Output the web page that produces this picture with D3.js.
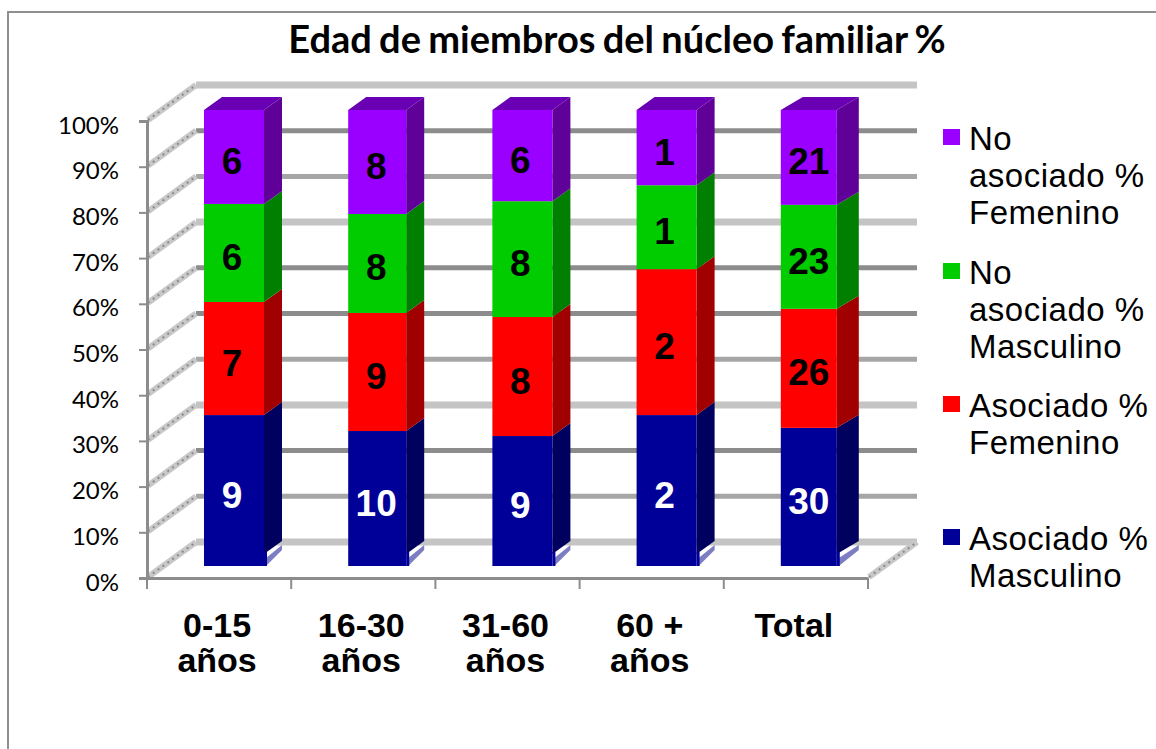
<!DOCTYPE html>
<html>
<head>
<meta charset="utf-8">
<script src="https://cdn.jsdelivr.net/npm/d3@7"></script>
<style>
  html, body { margin: 0; padding: 0; background: #fff; }
  svg { display: block; }
</style>
</head>
<body>
<div id="chart"></div>
<script>
// Datos
const categories = ['0-15 años', '16-30 años', '31-60 años', '60 + años', 'Total'];
const categoryLines = [['0-15', 'años'], ['16-30', 'años'], ['31-60', 'años'], ['60 +', 'años'], ['Total']];
const seriesKeys = ['asocMasc', 'asocFem', 'noAsocMasc', 'noAsocFem'];

// porcentaje estimado de cada tramo (altura en la barra)
const asocMasc = [33.1, 29.6, 28.5, 33.1, 30.3];
const asocFem = [24.8, 25.9, 26.1, 32.0, 26.1];
const noAsocMasc = [21.5, 21.7, 25.4, 18.4, 22.8];
const noAsocFem = [20.6, 22.8, 20.0, 16.5, 20.8];

// etiquetas que muestra cada tramo
const labelsAsocMasc = [9, 10, 9, 2, 30];
const labelsAsocFem = [7, 9, 8, 2, 26];
const labelsNoAsocMasc = [6, 8, 8, 1, 23];
const labelsNoAsocFem = [6, 8, 6, 1, 21];

const yTicks = [0, 10, 20, 30, 40, 50, 60, 70, 80, 90, 100];
const legendLines = {
  noAsocFem: ['No', 'asociado %', 'Femenino'],
  noAsocMasc: ['No', 'asociado %', 'Masculino'],
  asocFem: ['Asociado %', 'Femenino'],
  asocMasc: ['Asociado %', 'Masculino']
};

//Colores fijos
const COLOR_FRONT = { asocMasc: '#000099', asocFem: '#ff0000', noAsocMasc: '#00cc00', noAsocFem: '#9900ff' };
const COLOR_SIDE = { asocMasc: '#00005f', asocFem: '#a00000', noAsocMasc: '#007f00', noAsocFem: '#5f0099' };
const COLOR_TOP = '#6a00b4';
const COLOR_AXIS = '#8c8c8c';
// el moire de las lineas de rejilla en la imagen original, de 0% a 100%
const gridShade = ['#c4c4c4', '#a6a6a6', '#8c8c8c', '#c4c4c4', '#a6a6a6', '#8c8c8c', '#8c8c8c', '#c4c4c4', '#a6a6a6', '#8c8c8c', '#c4c4c4'];

const width = 1156, height = 749;
const wallDx = 49, wallDy = -36;
const barInset = 57, barDy = -13;
const frontW = [60, 58, 60, 60, 56];
const sideW = [18, 18, 18, 18, 22];

const svg = d3.select('#chart').append('svg')
  .attr('width', width)
  .attr('height', height);

// Marco
svg.append('path')
  .attr('d', 'M8,' + height + 'V12H' + width)
  .attr('fill', 'none')
  .attr('stroke', '#8f8f8f')
  .attr('stroke-width', 2);

// Titulo
svg.append('text')
  .attr('x', 617)
  .attr('y', 53)
  .attr('text-anchor', 'middle')
  .style('font', '700 38px Lato')
  .style('word-spacing', '-2px')
  .attr('fill', '#000')
  .text('Edad de miembros del núcleo familiar %');

// Escalas
const x = d3.scaleBand().domain(categories).range([147, 868]);
const y = d3.scaleLinear().domain([0, 100]).range([578, 121]);
const yBar = d3.scaleLinear().domain([0, 100]).range([566, 110]);

// Rejilla del fondo
svg.append('g').selectAll('line')
  .data(yTicks)
  .enter()
  .append('line')
  .attr('x1', 147 + wallDx)
  .attr('x2', 868 + wallDx)
  .attr('y1', function(d) { return y(d) + wallDy; })
  .attr('y2', function(d) { return y(d) + wallDy; })
  .attr('stroke', function(d, i) { return gridShade[i]; })
  .attr('stroke-width', function(d, i) { return gridShade[i] == '#c4c4c4' ? 7 : 5; });

// Pared lateral y suelo (lineas rayadas)
let wallData = yTicks.map(function(d) { return { x: 147, y: y(d) }; });
wallData.push({ x: 868, y: y(0) });
svg.append('g').selectAll('g')
  .data(wallData)
  .enter()
  .append('g')
  .each(function(d) {
    let g = d3.select(this);
    g.append('line').attr('stroke', '#c8c8c8').attr('stroke-width', 6);
    g.append('line').attr('stroke', '#8a8a8a').attr('stroke-width', 2).attr('stroke-dasharray', '2 4');
    g.selectAll('line')
      .attr('x1', d.x + 1)
      .attr('y1', d.y - 1)
      .attr('x2', d.x + wallDx)
      .attr('y2', d.y + wallDy);
  });

// Ejes
let yAxis = d3.axisLeft(y)
  .tickValues(yTicks)
  .tickSize(8)
  .tickPadding(20)
  .tickFormat(function(d) { return d + '%'; });

let gy = svg.append('g')
  .attr('transform', 'translate(147,0)')
  .call(yAxis);
gy.select('.domain').attr('stroke', COLOR_AXIS).attr('stroke-width', 3);
gy.selectAll('.tick line').attr('stroke', COLOR_AXIS).attr('stroke-width', 2);
gy.selectAll('.tick text')
  .attr('fill', '#000')
  .attr('dy', '0.5em')
  .style('font', '400 24px Lato');

let xAxis = d3.axisBottom(x).tickSize(0).tickFormat('');
let gx = svg.append('g')
  .attr('transform', 'translate(0,578)')
  .call(xAxis);
gx.select('.domain').attr('stroke', COLOR_AXIS).attr('stroke-width', 3);

// marcas entre categorias
svg.append('g').selectAll('line')
  .data(categories.concat(['fin']))
  .enter()
  .append('line')
  .attr('x1', function(d, i) { return i < categories.length ? x(d) : x.range()[1]; })
  .attr('x2', function(d, i) { return i < categories.length ? x(d) : x.range()[1]; })
  .attr('y1', 578)
  .attr('y2', 589)
  .attr('stroke', COLOR_AXIS)
  .attr('stroke-width', 2);

// Etiquetas de categoria
svg.append('g').selectAll('text')
  .data(categories)
  .enter()
  .append('text')
  .attr('x', function(d) { return x(d) + x.bandwidth() / 2 - 2; })
  .attr('y', 637)
  .attr('text-anchor', 'middle')
  .attr('fill', '#000')
  .style('font', '700 34px "Liberation Sans"')
  .each(function(d, i) {
    d3.select(this).selectAll('tspan')
      .data(categoryLines[i])
      .enter()
      .append('tspan')
      .attr('x', x(d) + x.bandwidth() / 2 - 2)
      .attr('dy', function(l, j) { return j ? 35 : 0; })
      .text(function(l) { return l; });
  });

// Barras apiladas
const rows = categories.map(function(c, i) {
  return { cat: c, i: i, asocMasc: asocMasc[i], asocFem: asocFem[i], noAsocMasc: noAsocMasc[i], noAsocFem: noAsocFem[i] };
});
const stacked = d3.stack().keys(seriesKeys)(rows);
const labelSets = { asocMasc: labelsAsocMasc, asocFem: labelsAsocFem, noAsocMasc: labelsNoAsocMasc, noAsocFem: labelsNoAsocFem };

function poly(points) {
  return points.map(function(p) { return p.join(','); }).join(' ');
}

let barGroups = svg.append('g').selectAll('g')
  .data(rows)
  .enter()
  .append('g');

barGroups.each(function(row) {
  let g = d3.select(this);
  let i = row.i;
  let x0 = x(row.cat) + barInset;
  let xr = x0 + frontW[i];
  let sw = sideW[i];

  // base clara junto al suelo
  g.append('polygon')
    .attr('points', poly([[xr + 2, yBar(0)], [xr + sw, yBar(0) + barDy - 3], [xr + sw, yBar(0) + barDy - 8], [xr + 2, yBar(0) - 8]]))
    .attr('fill', '#7d7dc4');

  stacked.forEach(function(layer) {
    let d = layer[i];
    let key = layer.key;
    let top = yBar(d[1]), bottom = yBar(d[0]);
    let bottomSide = key == 'asocMasc' ? bottom - 12 : bottom;

    g.append('polygon')
      .attr('points', poly([[xr, top], [xr + sw, top + barDy], [xr + sw, bottomSide + barDy], [xr, bottomSide]]))
      .attr('fill', COLOR_SIDE[key]);

    g.append('rect')
      .attr('x', x0)
      .attr('y', top)
      .attr('width', frontW[i])
      .attr('height', bottom - top)
      .attr('fill', COLOR_FRONT[key]);

    if (key == 'asocMasc') {
      g.append('polygon')
        .attr('points', poly([[xr, bottom - 14], [xr + 3, bottom - 14], [xr + 3, bottom], [xr, bottom]]))
        .attr('fill', COLOR_FRONT[key]);
    }

    if (key == 'noAsocFem') {
      g.append('polygon')
        .attr('points', poly([[x0, top], [x0 + sw, top + barDy], [xr + sw, top + barDy], [xr, top]]))
        .attr('fill', COLOR_TOP);
    }
  });

  // Etiquetas de los tramos
  stacked.forEach(function(layer) {
    let d = layer[i];
    g.append('text')
      .attr('x', x0 + 28)
      .attr('y', (yBar(d[0]) + yBar(d[1])) / 2 + 17)
      .attr('text-anchor', 'middle')
      .attr('fill', layer.key == 'asocMasc' ? '#fff' : '#000')
      .style('font', '700 37px "Liberation Sans"')
      .text(labelSets[layer.key][i]);
  });
});

// Leyenda
const legendKeys = ['noAsocFem', 'noAsocMasc', 'asocFem', 'asocMasc'];
const legendBaseline = { noAsocFem: 150, noAsocMasc: 284, asocFem: 417, asocMasc: 550 };

let legend = svg.append('g').selectAll('g')
  .data(legendKeys)
  .enter()
  .append('g');

legend.append('rect')
  .attr('x', 943)
  .attr('y', function(d) { return legendBaseline[d] - 21; })
  .attr('width', 17)
  .attr('height', 16)
  .attr('fill', function(d) { return COLOR_FRONT[d]; });

legend.append('text')
  .attr('y', function(d) { return legendBaseline[d]; })
  .attr('fill', '#000')
  .style('font', '400 33px "Liberation Sans"')
  .style('letter-spacing', '0.5px')
  .selectAll('tspan')
  .data(function(d) { return legendLines[d]; })
  .enter()
  .append('tspan')
  .attr('x', 969)
  .attr('dy', function(l, j) { return j ? 37 : 0; })
  .text(function(l) { return l; });
</script>
</body>
</html>
